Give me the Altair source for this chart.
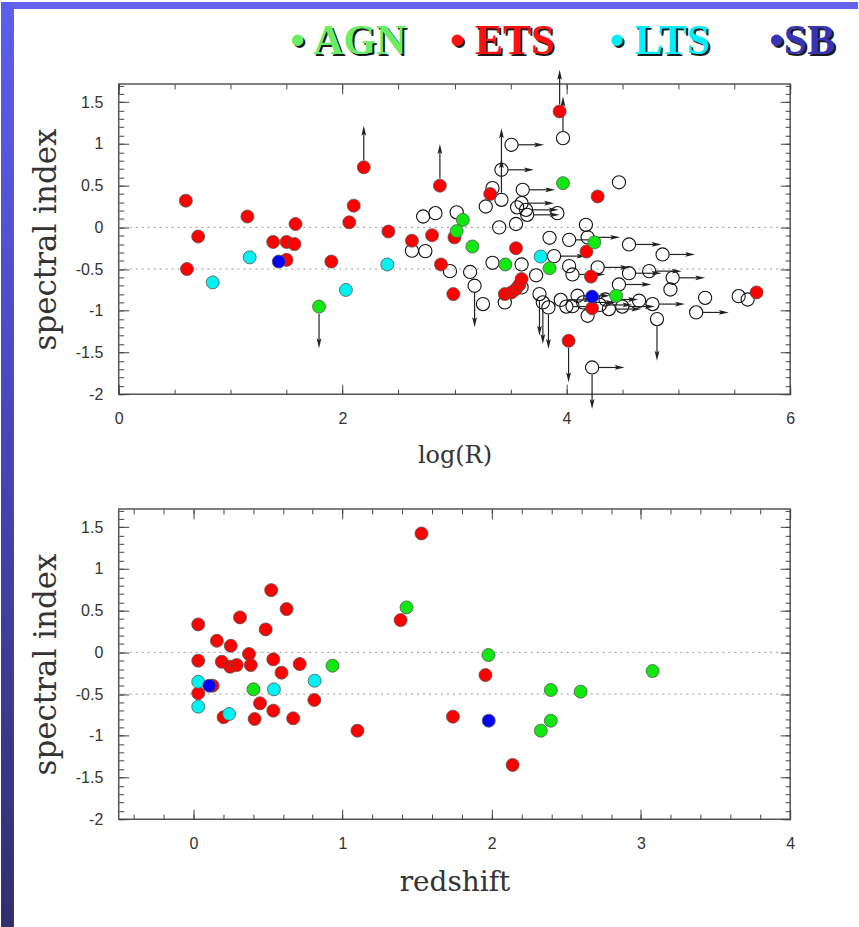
import altair as alt
import pandas as pd

# ---------------- data ----------------
CLASSES = ["AGN", "ETS", "LTS", "SB"]
CLASS_COLORS = ["#10e810", "#ff0000", "#00f2f2", "#0000ff"]

# top panel: classified sources (filled)  -- log(R), spectral index, limit flag
top_cls = (["ETS"] * 34) + (["LTS"] * 5) + (["AGN"] * 9) + (["SB"] * 2)
top_logr = [0.60, 0.71, 0.61, 1.15, 1.38, 1.50, 1.50, 1.57, 1.58, 1.90, 2.19, 2.06, 2.10, 2.41,
            2.87, 3.32, 2.62, 2.80, 3.00, 3.55, 2.88, 2.99, 3.45, 3.51, 3.55, 3.58, 3.60, 3.94,
            4.28, 4.18, 4.22, 4.23, 4.02, 5.70,
            0.84, 1.17, 2.03, 2.40, 3.77,
            1.79, 3.075, 3.02, 3.16, 3.455, 3.85, 3.97, 4.25, 4.445,
            1.43, 4.23]
top_alpha = [0.32, -0.11, -0.50, 0.13, -0.175, -0.39, -0.175, -0.20, 0.04, -0.41, 0.72, 0.06, 0.26, -0.05,
             0.50, 0.40, -0.16, -0.095, -0.12, -0.25, -0.445, -0.80, -0.80, -0.78, -0.74, -0.69, -0.62, 1.39,
             0.37, -0.29, -0.59, -0.97, -1.36, -0.78,
             -0.66, -0.36, -0.75, -0.445, -0.35,
             -0.95, 0.09, -0.045, -0.23, -0.445, -0.49, 0.53, -0.18, -0.82,
             -0.41, -0.83]
top_lim = ["", "", "", "", "", "", "", "", "", "", "u", "", "", "",
           "u", "", "", "", "", "", "", "", "", "", "", "", "", "u",
           "", "", "", "", "d", "",
           "", "", "", "", "",
           "d", "", "", "", "", "", "", "", "",
           "", ""]

# top panel: unclassified sources (open circles)
open_logr = [3.51, 3.42, 3.97, 3.34, 3.61, 3.28, 3.42, 3.56, 3.60, 3.64, 3.65, 3.92, 2.72, 2.83,
             3.02, 3.40, 3.55, 4.175, 4.47, 2.62, 2.74, 3.85, 4.025, 4.19, 4.56, 4.86, 3.89, 2.96,
             3.34, 3.60, 3.14, 3.18, 3.255, 3.45, 3.60, 3.73, 4.025, 4.055, 4.28, 4.56, 4.74, 4.47,
             4.95, 4.93, 5.24, 5.16, 5.54, 5.62, 4.77, 4.81, 3.76, 3.79, 3.84, 4.055, 4.10, 4.35,
             4.38, 4.19, 4.23, 3.95, 4.50, 4.65, 4.00, 4.15, 4.30]
open_alpha = [0.99, 0.69, 1.07, 0.47, 0.45, 0.25, 0.33, 0.24, 0.29, 0.21, 0.15, 0.17, 0.13, 0.17,
              0.18, 0.00, 0.04, 0.03, 0.54, -0.28, -0.285, -0.125, -0.15, -0.12, -0.205, -0.325, -0.345, -0.525,
              -0.425, -0.445, -0.535, -0.70, -0.92, -0.90, -0.72, -0.575, -0.465, -0.565, -0.48, -0.55, -0.525, -0.685,
              -0.605, -0.745, -0.845, -1.02, -0.825, -0.865, -0.92, -1.10, -0.80, -0.90, -0.96, -0.945, -0.82, -0.865,
              -0.98, -1.06, -1.68, -0.87, -0.95, -0.88, -0.95, -0.90, -0.93]
open_lim = ["r", "ru", "u", "", "r", "", "u", "", "r", "r", "r", "", "", "",
            "", "", "", "", "", "", "", "", "r", "r", "r", "r", "r", "",
            "", "", "", "d", "", "", "", "", "", "r", "r", "r", "r", "r",
            "r", "", "", "r", "", "", "r", "d", "d", "d", "d", "", "r", "r",
            "r", "", "rd", "r", "r", "", "r", "r", "r"]

# bottom panel: redshift vs spectral index
z_cls = (["ETS"] * 30) + (["LTS"] * 5) + (["AGN"] * 9) + (["SB"] * 2)
z_red = [0.033, 0.033, 0.033, 0.129, 0.158, 0.251, 0.191, 0.247, 0.291, 0.203, 0.313, 0.373, 0.385, 0.447,
         0.411, 0.485, 0.522, 0.536, 0.536, 0.591, 0.625, 0.713, 0.669, 0.811, 1.10, 1.389, 1.529, 1.958,
         1.74, 2.14,
         0.033, 0.033, 0.24, 0.54, 0.813,
         0.403, 0.933, 1.429, 1.978, 2.396, 2.596, 2.396, 2.329, 3.078,
         0.107, 1.98]
z_alpha = [0.335, -0.10, -0.49, -0.40, 0.139, 0.079, -0.113, -0.172, -0.152, -0.778, 0.419, -0.02, -0.152, -0.611,
           -0.799, 0.275, 0.746, -0.084, -0.699, -0.244, 0.519, -0.14, -0.791, -0.571, -0.939, 0.387, 1.425, -0.272,
           -0.771, -1.35,
           -0.352, -0.651, -0.739, -0.443, -0.34,
           -0.443, -0.16, 0.539, -0.032, -0.451, -0.471, -0.819, -0.939, -0.224,
           -0.40, -0.819]

REF_LINES = [0, -0.5]

LEGEND_TEXT = ["\u2022 AGN", "\u2022 ETS", "\u2022 LTS", "\u2022SB"]
LEGEND_COLORS = ["#66ee66", "#ff1010", "#00eeff", "#3535b5"]

X_TOP_MAJOR = [0, 2, 4, 6]
X_TOP_MINOR = [round(0.5 * i, 2) for i in range(13)]
X_BOT_MAJOR = [0, 1, 2, 3, 4]
X_BOT_MINOR = [round(-0.4 + 0.2 * i, 2) for i in range(22)]
Y_MAJOR = [-2, -1.5, -1, -0.5, 0, 0.5, 1, 1.5]
Y_MINOR = [round(-2 + 0.1 * i, 2) for i in range(38)]

# ---------------- frames ----------------
top_df = pd.DataFrame({"cls": top_cls, "x": top_logr, "y": top_alpha, "lim": top_lim})
open_df = pd.DataFrame({"x": open_logr, "y": open_alpha, "lim": open_lim})
bot_df = pd.DataFrame({"cls": z_cls, "x": z_red, "y": z_alpha})
ref_df = pd.DataFrame({"y": REF_LINES})
leg_df = pd.DataFrame({"label": LEGEND_TEXT, "color": LEGEND_COLORS, "i": list(range(len(LEGEND_TEXT)))})

arrow_rows = []
for d in (open_df, top_df):
    for x, y, lim in zip(d["x"], d["y"], d["lim"]):
        for ch in lim:
            arrow_rows.append({"x": x, "y": y, "dir": ch})
arrow_df = pd.DataFrame(arrow_rows)

W, H = 673, 311
xs_top = alt.Scale(domain=[0, 6], nice=False, zero=False)
xs_bot = alt.Scale(domain=[-0.5, 4], nice=False, zero=False)
ys = alt.Scale(domain=[-2, 1.72], nice=False, zero=False)
cls_scale = alt.Scale(domain=CLASSES, range=CLASS_COLORS)

LABEL_EXPR = "datum.value < 0 ? '-' + format(-datum.value, '') : format(datum.value, '')"
TICK_COLOR = "#444"


def make_axis(orient, vals, size, labels, title=None, title_size=28, title_pad=12):
    kw = dict(orient=orient, values=vals, tickSize=size, offset=-size, labels=labels,
              domain=False, grid=False, ticks=True, tickColor=TICK_COLOR, tickWidth=1, title=title)
    if labels:
        kw.update(labelFont="Liberation Sans", labelFontSize=16, labelColor="#333",
                  labelPadding=16, labelExpr=LABEL_EXPR, labelFlush=False, labelOverlap=False)
    if title:
        kw.update(titleFont="DejaVu Serif", titleFontSize=title_size, titleFontWeight="normal",
                  titleColor="#333", titlePadding=title_pad)
    return alt.Axis(**kw)


def axis_layers(df, xscale, x_major, x_minor, xtitle, xtitle_size):
    specs = [("bottom", "left", 10, x_major, Y_MAJOR, True),
             ("top", "right", 10, x_major, Y_MAJOR, False),
             ("bottom", "left", 5, x_minor, Y_MINOR, False),
             ("top", "right", 5, x_minor, Y_MINOR, False)]
    out = []
    for xo, yo, size, vx, vy, lab in specs:
        out.append(alt.Chart(df).mark_point(opacity=0).encode(
            x=alt.X("x:Q", scale=xscale,
                    axis=make_axis(xo, vx, size, lab, xtitle if lab else None, xtitle_size, 17)),
            y=alt.Y("y:Q", scale=ys,
                    axis=make_axis(yo, vy, size, lab, "spectral index" if lab else None, 31, 13)),
        ))
    return out


def ref_layer(xscale):
    return alt.Chart(ref_df).mark_rule(color="#9a9a9a", strokeDash=[2, 4], strokeWidth=1).encode(
        y=alt.Y("y:Q", scale=ys, axis=None))


def filled_layer(df, xscale):
    return alt.Chart(df).mark_point(filled=True, shape="circle", size=170, opacity=1,
                                    stroke="#555", strokeWidth=0.8).encode(
        x=alt.X("x:Q", scale=xscale, axis=None),
        y=alt.Y("y:Q", scale=ys, axis=None),
        fill=alt.Fill("cls:N", scale=cls_scale, legend=None),
    )


# decorations (slide background strips)
deco = pd.DataFrame({"k": [0]})
top_band = alt.Chart(deco).mark_rect(color="#6363ee").encode(
    x=alt.value(-118), x2=alt.value(741), y=alt.value(-82), y2=alt.value(-75))
left_band = alt.Chart(deco).mark_rect(
    color=alt.Gradient(gradient="linear",
                       stops=[alt.GradientStop(color="#5e5ef0", offset=0),
                              alt.GradientStop(color="#4545b5", offset=0.5),
                              alt.GradientStop(color="#30306e", offset=1)],
                       x1=0, x2=0, y1=0, y2=1)).encode(
    x=alt.value(-118), x2=alt.value(-105), y=alt.value(-82), y2=alt.value(845))

# legend text at top
leg_base = alt.Chart(leg_df).transform_calculate(px="172 + 160 * datum.i")
leg_shadow = leg_base.mark_text(font="Liberation Serif", fontSize=42, fontWeight="bold", align="left",
                                baseline="alphabetic", dx=2, dy=2, color="#1a1a1a").encode(
    x=alt.X("px:Q", scale=None), y=alt.value(-30), text="label:N")
leg_front = leg_base.mark_text(font="Liberation Serif", fontSize=42, fontWeight="bold", align="left",
                               baseline="alphabetic").encode(
    x=alt.X("px:Q", scale=None), y=alt.value(-30), text="label:N",
    color=alt.Color("color:N", scale=None))

# arrows (limits)
ARROW = "M0,-1L0.42,0.75L0,0.4L-0.42,0.75Z"
arrows = alt.Chart(arrow_df).transform_calculate(
    x1="datum.dir == 'r' ? datum.x + 0.06 : datum.x",
    x2="datum.dir == 'r' ? datum.x + 0.24 : datum.x",
    y1="datum.dir == 'u' ? datum.y + 0.085 : (datum.dir == 'd' ? datum.y - 0.085 : datum.y)",
    y2="datum.dir == 'u' ? datum.y + 0.43 : (datum.dir == 'd' ? datum.y - 0.43 : datum.y)",
    ang="datum.dir == 'u' ? 0 : (datum.dir == 'r' ? 90 : 180)",
)
arrow_lines = arrows.mark_rule(color="#222", strokeWidth=1.2).encode(
    x=alt.X("x1:Q", scale=xs_top, axis=None), x2="x2:Q",
    y=alt.Y("y1:Q", scale=ys, axis=None), y2="y2:Q")
arrow_heads = arrows.mark_point(shape=ARROW, filled=True, color="#222", size=130, opacity=1).encode(
    x=alt.X("x2:Q", scale=xs_top, axis=None),
    y=alt.Y("y2:Q", scale=ys, axis=None),
    angle=alt.Angle("ang:Q", scale=None))

open_pts = alt.Chart(open_df).mark_point(shape="circle", filled=False, size=175, color="#111",
                                         strokeWidth=1.1, opacity=1).encode(
    x=alt.X("x:Q", scale=xs_top, axis=None),
    y=alt.Y("y:Q", scale=ys, axis=None))

top = alt.layer(
    top_band, left_band, leg_shadow, leg_front,
    ref_layer(xs_top), open_pts, arrow_lines, arrow_heads, filled_layer(top_df, xs_top),
    *axis_layers(open_df, xs_top, X_TOP_MAJOR, X_TOP_MINOR, "log(R)", 24),
).resolve_axis(x="independent", y="independent").properties(width=W, height=H)

bottom = alt.layer(
    ref_layer(xs_bot), filled_layer(bot_df, xs_bot),
    *axis_layers(bot_df, xs_bot, X_BOT_MAJOR, X_BOT_MINOR, "redshift", 28),
).resolve_axis(x="independent", y="independent").properties(width=W, height=H)

chart = alt.vconcat(top, bottom, spacing=115, bounds="flush").properties(
    padding=0, background="white"
).configure_view(stroke="#555", strokeWidth=1.5)

chart.save("out.html", embed_options={"renderer": "svg", "actions": False})
